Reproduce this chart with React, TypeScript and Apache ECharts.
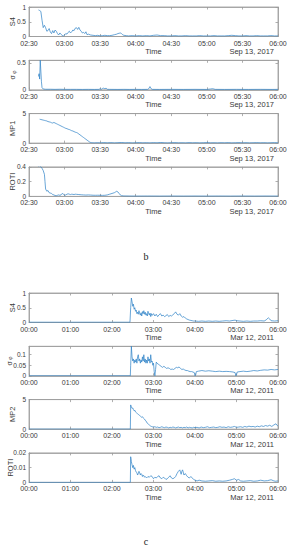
import React, { useEffect, useRef } from 'react';
import * as echarts from 'echarts';

// ---- Data (x = minutes from the start of each panel's time axis) ----
// Sep 13, 2017 panels: axis starts 02:30
const s4Sep: [number, number][] = [
  [8, 0.9], [9, 0.88], [10, 0.85], [11, 0.55], [12, 0.3], [13, 0.38], [14, 0.3], [15, 0.18], [16, 0.2], [17, 0.27],
  [18, 0.15], [19, 0.1], [20, 0.2], [21, 0.12], [22, 0.22], [23, 0.18], [24, 0.1], [25, 0.05], [26, 0.12], [27, 0.08],
  [28, 0.03], [29, 0.02], [30, 0.05], [31, 0.1], [32, 0.08], [33, 0.14], [34, 0.18], [35, 0.12], [36, 0.16], [37, 0.22],
  [38, 0.2], [39, 0.28], [40, 0.3], [41, 0.24], [42, 0.31], [43, 0.22], [44, 0.18], [45, 0.12], [46, 0.14], [47, 0.1],
  [48, 0.16], [49, 0.06], [50, 0.08], [52, 0.05], [54, 0.04], [56, 0.03], [58, 0.04], [60, 0.02], [62, 0.03], [64, 0.04],
  [66, 0.03], [68, 0.03], [70, 0.04], [72, 0.06], [74, 0.08], [75, 0.1], [76, 0.11], [77, 0.12], [78, 0.1], [79, 0.06],
  [80, 0.04], [82, 0.03], [84, 0.02], [87, 0.03], [90, 0.02], [93, 0.03], [96, 0.02], [99, 0.03], [102, 0.02], [105, 0.04],
  [108, 0.05], [111, 0.03], [114, 0.03], [117, 0.02], [120, 0.02], [123, 0.03], [126, 0.02], [129, 0.02], [132, 0.03], [135, 0.02],
  [138, 0.02], [141, 0.02], [144, 0.03], [147, 0.02], [150, 0.02], [153, 0.02], [156, 0.03], [159, 0.02], [162, 0.02], [165, 0.02],
  [168, 0.03], [171, 0.04], [174, 0.03], [177, 0.02], [180, 0.02], [183, 0.03], [186, 0.02], [189, 0.02], [192, 0.03], [195, 0.02],
  [198, 0.02], [201, 0.02], [204, 0.03], [207, 0.02], [210, 0.02],
];
const sigmaSep: [number, number][] = [
  [8, 0.25], [8.5, 0.3], [9, 0.2], [9.5, 0.55], [10, 0.35], [10.5, 0.15], [11, 0.04], [12, 0.015], [14, 0.01], [18, 0.01],
  [22, 0.008], [26, 0.01], [30, 0.008], [35, 0.008], [40, 0.008], [45, 0.007], [50, 0.008], [55, 0.007], [59, 0.008], [60, 0.02],
  [61, 0.01], [62, 0.025], [63, 0.03], [64, 0.02], [65, 0.03], [66, 0.01], [68, 0.008], [75, 0.007], [80, 0.008], [85, 0.007],
  [90, 0.008], [95, 0.007], [100, 0.008], [101, 0.02], [102, 0.06], [103, 0.02], [104, 0.008], [110, 0.007], [120, 0.008], [130, 0.007],
  [140, 0.008], [150, 0.007], [153, 0.015], [155, 0.02], [157, 0.008], [165, 0.007], [175, 0.008], [185, 0.007], [195, 0.008], [205, 0.007],
  [210, 0.008],
];
const mp1Sep: [number, number][] = [
  [9, 4.05], [10, 4.0], [11, 3.95], [12, 3.9], [13, 3.85], [14, 3.8], [15, 3.75], [16, 3.65], [17, 3.6], [18, 3.55],
  [19, 3.45], [20, 3.4], [21, 3.5], [22, 3.4], [23, 3.3], [24, 3.2], [25, 3.1], [26, 3.0], [27, 2.9], [28, 2.8],
  [29, 2.7], [30, 2.6], [31, 2.5], [32, 2.45], [33, 2.35], [34, 2.3], [35, 2.2], [36, 2.1], [37, 2.05], [38, 1.95],
  [39, 1.85], [40, 1.8], [41, 1.7], [42, 1.55], [43, 1.4], [44, 1.25], [45, 1.1], [46, 0.95], [47, 0.8], [48, 0.65],
  [49, 0.5], [50, 0.35], [51, 0.2], [52, 0.1], [53, 0.05], [55, 0.03], [58, 0.06], [60, 0.03], [63, 0.08], [66, 0.04],
  [69, 0.07], [72, 0.03], [75, 0.06], [78, 0.1], [81, 0.04], [84, 0.07], [87, 0.03], [90, 0.05], [93, 0.08], [96, 0.04],
  [99, 0.06], [102, 0.03], [105, 0.07], [108, 0.04], [111, 0.1], [114, 0.05], [117, 0.03], [120, 0.06], [123, 0.08], [126, 0.04],
  [129, 0.05], [132, 0.03], [135, 0.07], [138, 0.04], [141, 0.06], [144, 0.03], [147, 0.05], [150, 0.08], [153, 0.04], [156, 0.05],
  [159, 0.03], [162, 0.06], [165, 0.04], [168, 0.07], [171, 0.03], [174, 0.05], [177, 0.08], [180, 0.04], [183, 0.06], [186, 0.03],
  [189, 0.05], [192, 0.07], [195, 0.04], [198, 0.06], [201, 0.03], [204, 0.05], [207, 0.07], [210, 0.04],
];
const rotiSep: [number, number][] = [
  [8, 0.4], [9, 0.42], [10, 0.4], [11, 0.38], [12, 0.35], [13, 0.3], [13.5, 0.2], [14, 0.1], [15, 0.07], [16, 0.08],
  [17, 0.05], [18, 0.045], [19, 0.04], [20, 0.025], [21, 0.02], [22, 0.012], [23, 0.01], [24, 0.015], [25, 0.02], [26, 0.015],
  [27, 0.02], [28, 0.04], [29, 0.03], [30, 0.015], [31, 0.02], [32, 0.03], [33, 0.035], [34, 0.03], [35, 0.025], [36, 0.03],
  [37, 0.028], [38, 0.025], [39, 0.03], [40, 0.028], [42, 0.025], [44, 0.022], [46, 0.02], [48, 0.018], [50, 0.02], [52, 0.018],
  [54, 0.016], [56, 0.015], [58, 0.016], [60, 0.015], [62, 0.014], [64, 0.015], [66, 0.02], [68, 0.03], [70, 0.04], [72, 0.05],
  [73, 0.06], [74, 0.07], [75, 0.06], [76, 0.04], [77, 0.02], [78, 0.01], [80, 0.006], [85, 0.005], [90, 0.004], [100, 0.005],
  [110, 0.004], [120, 0.005], [130, 0.004], [140, 0.005], [150, 0.004], [160, 0.005], [170, 0.004], [180, 0.005], [190, 0.004], [200, 0.005],
  [210, 0.004],
];

// Mar 12, 2011 panels: axis starts 00:00
const s4Mar: [number, number][] = [
  [0, 0.01], [30, 0.01], [60, 0.01], [90, 0.01], [120, 0.01], [146, 0.01], [147, 0.5], [148, 0.83], [149, 0.7], [150, 0.55],
  [151, 0.62], [152, 0.45], [153, 0.5], [154, 0.38], [155, 0.42], [156, 0.3], [157, 0.35], [158, 0.28], [159, 0.4], [160, 0.3],
  [161, 0.25], [162, 0.33], [163, 0.22], [164, 0.37], [165, 0.3], [166, 0.4], [167, 0.28], [168, 0.35], [169, 0.25], [170, 0.3],
  [171, 0.22], [172, 0.38], [173, 0.3], [174, 0.25], [175, 0.32], [176, 0.2], [177, 0.3], [178, 0.24], [180, 0.3], [182, 0.22],
  [184, 0.28], [186, 0.2], [188, 0.26], [190, 0.3], [192, 0.22], [194, 0.25], [196, 0.2], [198, 0.23], [200, 0.27], [202, 0.2],
  [204, 0.24], [206, 0.22], [208, 0.26], [210, 0.3], [212, 0.36], [214, 0.28], [216, 0.25], [218, 0.3], [220, 0.22], [222, 0.18],
  [224, 0.2], [226, 0.15], [228, 0.12], [230, 0.1], [232, 0.08], [234, 0.07], [236, 0.06], [238, 0.05], [240, 0.05], [245, 0.04],
  [250, 0.05], [255, 0.04], [260, 0.05], [265, 0.04], [270, 0.05], [275, 0.04], [280, 0.05], [285, 0.06], [290, 0.05], [295, 0.07],
  [298, 0.08], [300, 0.06], [305, 0.05], [310, 0.04], [315, 0.05], [320, 0.04], [325, 0.05], [330, 0.05], [335, 0.06], [340, 0.05],
  [343, 0.09], [346, 0.16], [348, 0.12], [350, 0.06], [355, 0.05], [360, 0.06],
];
const sigmaMar: [number, number][] = [
  [0, 0], [146.5, 0], [147, 0.05], [148, 0.14], [149, 0.09], [150, 0.07], [151, 0.08], [152, 0.06], [153, 0.075], [154, 0.065],
  [155, 0.08], [156, 0.06], [157, 0.09], [158, 0.1], [159, 0.07], [160, 0.08], [161, 0.06], [162, 0.075], [163, 0.065], [164, 0.09],
  [165, 0.07], [166, 0.1], [167, 0.065], [168, 0.08], [169, 0.06], [170, 0.075], [171, 0.06], [172, 0.09], [173, 0.07], [174, 0.08],
  [175, 0.06], [176, 0.1], [177, 0.065], [178, 0.07], [179, 0.05], [180, 0.06], [181, 0.02], [182, 0], [183, 0.03], [184, 0.065],
  [185, 0.06], [187, 0.055], [189, 0.05], [191, 0.045], [193, 0.04], [195, 0.045], [197, 0.04], [199, 0.035], [201, 0.038], [203, 0.035],
  [205, 0.03], [207, 0.032], [209, 0.03], [211, 0.035], [213, 0.04], [215, 0.038], [217, 0.042], [219, 0.035], [221, 0.03], [223, 0.032],
  [225, 0.028], [227, 0.025], [229, 0.025], [231, 0.022], [233, 0.02], [235, 0.02], [237, 0.018], [239, 0.015], [240, 0], [241, 0.005],
  [242, 0.02], [245, 0.022], [250, 0.025], [255, 0.022], [260, 0.024], [265, 0.022], [270, 0.02], [275, 0.022], [280, 0.02], [285, 0.021],
  [290, 0.02], [295, 0.018], [298, 0.015], [299, 0], [300, 0.005], [301, 0.018], [305, 0.02], [310, 0.022], [315, 0.02], [320, 0.022],
  [325, 0.025], [330, 0.023], [335, 0.026], [340, 0.028], [345, 0.027], [350, 0.03], [355, 0.028], [360, 0.03],
];
const mp2Mar: [number, number][] = [
  [0, 0], [146.5, 0], [147, 4.1], [148, 3.7], [149, 3.5], [150, 3.6], [151, 3.3], [152, 3.1], [153, 3.2], [154, 2.9],
  [155, 2.8], [156, 2.7], [157, 2.6], [158, 2.5], [159, 2.5], [160, 2.3], [161, 2.2], [162, 2.2], [163, 2.0], [164, 2.1],
  [165, 1.9], [166, 1.8], [167, 1.7], [168, 1.5], [169, 1.4], [170, 1.2], [171, 1.0], [172, 0.9], [173, 0.8], [174, 0.7],
  [175, 0.6], [176, 0.5], [177, 0.45], [178, 0.4], [180, 0.35], [182, 0.4], [184, 0.3], [186, 0.35], [188, 0.25], [190, 0.3],
  [192, 0.4], [194, 0.3], [196, 0.25], [198, 0.35], [200, 0.3], [202, 0.2], [204, 0.3], [206, 0.25], [208, 0.35], [210, 0.3],
  [212, 0.2], [214, 0.28], [216, 0.35], [218, 0.25], [220, 0.3], [222, 0.2], [224, 0.3], [226, 0.25], [228, 0.35], [230, 0.2],
  [232, 0.3], [234, 0.25], [236, 0.2], [238, 0.3], [240, 0.25], [243, 0.3], [246, 0.2], [249, 0.35], [252, 0.25], [255, 0.3],
  [258, 0.4], [261, 0.25], [264, 0.3], [267, 0.35], [270, 0.25], [273, 0.3], [276, 0.4], [279, 0.3], [282, 0.35], [285, 0.25],
  [288, 0.4], [291, 0.3], [294, 0.35], [297, 0.45], [300, 0.3], [303, 0.35], [306, 0.4], [309, 0.3], [312, 0.45], [315, 0.35],
  [318, 0.5], [321, 0.4], [324, 0.45], [327, 0.35], [330, 0.5], [333, 0.4], [336, 0.55], [339, 0.45], [342, 0.6], [345, 0.5],
  [348, 0.65], [351, 0.45], [354, 0.7], [357, 0.9], [359, 0.6], [360, 0.5],
];
const rotiMar: [number, number][] = [
  [0, 0], [146.5, 0], [147, 0.0174], [148, 0.014], [149, 0.012], [150, 0.01], [151, 0.0115], [152, 0.009], [153, 0.01], [154, 0.008],
  [155, 0.007], [156, 0.0065], [157, 0.005], [158, 0.006], [159, 0.0075], [160, 0.0065], [161, 0.005], [162, 0.006], [163, 0.0055], [164, 0.004],
  [165, 0.005], [166, 0.0045], [167, 0.0035], [168, 0.004], [170, 0.003], [172, 0.004], [174, 0.0035], [176, 0.0045], [178, 0.004], [180, 0.0025],
  [182, 0.0035], [184, 0.003], [186, 0.004], [188, 0.0045], [190, 0.003], [192, 0.0025], [194, 0.0035], [196, 0.003], [198, 0.002], [200, 0.0025],
  [202, 0.0035], [204, 0.0045], [206, 0.003], [208, 0.0025], [210, 0.003], [212, 0.004], [214, 0.006], [216, 0.0075], [218, 0.0085], [219, 0.007],
  [220, 0.0055], [221, 0.0075], [222, 0.0085], [223, 0.007], [224, 0.005], [226, 0.006], [228, 0.0045], [230, 0.0035], [232, 0.003], [234, 0.004],
  [236, 0.003], [238, 0.002], [240, 0.0015], [243, 0.001], [246, 0.0015], [250, 0.001], [255, 0.0008], [260, 0.001], [265, 0.0012], [270, 0.0008],
  [275, 0.001], [280, 0.0008], [285, 0.001], [290, 0.0015], [294, 0.002], [297, 0.0025], [300, 0.0015], [303, 0.002], [306, 0.001], [310, 0.0008],
  [315, 0.001], [320, 0.0012], [325, 0.0008], [330, 0.001], [335, 0.0015], [340, 0.001], [345, 0.0012], [350, 0.0018], [353, 0.0012], [356, 0.0008],
  [360, 0.001],
];

// Tick values
const s4Ticks = [0, 0.5, 1];
const sigmaSepTicks = [0, 0.5];
const mpTicks = [0, 5];
const rotiSepTicks = [0, 0.2, 0.4];
const sigmaMarTicks = [0, 0.05, 0.1];
const rotiMarTicks = [0, 0.01, 0.02];

const dateLabels = ['Sep 13, 2017', 'Mar 12, 2011'];
const figLetters = ['b', 'c'];
const groupStartMin = [150, 0];
const groupSpan = [210, 360];
const groupInterval = [30, 60];

const panels = [
  { data: s4Sep, name: 'S4', max: 1, ticks: s4Ticks, g: 0 },
  { data: sigmaSep, name: '{s|σ}{p| φ}', max: 0.55, ticks: sigmaSepTicks, g: 0 },
  { data: mp1Sep, name: 'MP1', max: 5, ticks: mpTicks, g: 0 },
  { data: rotiSep, name: 'ROTI', max: 0.4, ticks: rotiSepTicks, g: 0 },
  { data: s4Mar, name: 'S4', max: 1, ticks: s4Ticks, g: 1 },
  { data: sigmaMar, name: '{s|σ}{p| φ}', max: 0.14, ticks: sigmaMarTicks, g: 1 },
  { data: mp2Mar, name: 'MP2', max: 5, ticks: mpTicks, g: 1 },
  { data: rotiMar, name: 'ROTI', max: 0.02, ticks: rotiMarTicks, g: 1 },
];
const nameGaps = [13, 13, 13, 13, 13, 16.5, 13, 15];

const FONT = 'Liberation Sans, Arial, Helvetica, sans-serif';
const AXIS = '#9a9a9a';
const TXT = '#3a3a3a';
const LINE = '#2a80c6';
const LEFT = 29;
const WIDTH = 249;
const H = 29.5;
const groupTop = [7, 293];
const STEP = 53.3;

function pad(n: number) {
  return (n < 10 ? '0' : '') + n;
}

export default function App() {
  const ref = useRef<HTMLDivElement>(null);
  useEffect(() => {
    const chart = echarts.init(ref.current!, null, { renderer: 'svg' });
    const tops = panels.map((p, i) => groupTop[p.g] + (i % 4) * STEP);
    const grids: any[] = [];
    const xAxes: any[] = [];
    const yAxes: any[] = [];
    const series: any[] = [];
    const graphics: any[] = [];
    panels.forEach((p, i) => {
      grids.push({
        left: LEFT, width: WIDTH, top: tops[i], height: H,
        show: true, borderColor: AXIS, borderWidth: 0.8, backgroundColor: 'transparent',
        containLabel: false, outerBoundsMode: 'none',
      });
      const off = groupStartMin[p.g];
      const tickStyle = { inside: true, length: 2.5, lineStyle: { color: AXIS, width: 0.8 } };
      xAxes.push({
        type: 'value', gridIndex: i, min: 0, max: groupSpan[p.g], interval: groupInterval[p.g], position: 'bottom',
        axisLine: { show: true, onZero: false, lineStyle: { color: AXIS, width: 0.8 } },
        axisTick: tickStyle,
        splitLine: { show: false },
        axisLabel: {
          fontSize: 7, color: TXT, margin: 3, fontFamily: FONT,
          formatter: (v: number) => {
            const m = Math.round(v + off);
            return pad(Math.floor(m / 60)) + ':' + pad(m % 60);
          },
        },
        name: 'Time', nameLocation: 'middle', nameGap: 11, nameMoveOverlap: false,
        nameTextStyle: { fontSize: 7.5, color: TXT, fontFamily: FONT },
      });
      xAxes.push({
        type: 'value', gridIndex: i, min: 0, max: groupSpan[p.g], interval: groupInterval[p.g], position: 'top',
        axisLine: { show: true, onZero: false, lineStyle: { color: AXIS, width: 0.8 } },
        axisTick: tickStyle, axisLabel: { show: false }, splitLine: { show: false },
      });
      yAxes.push({
        type: 'value', gridIndex: i, min: 0, max: p.max, position: 'left',
        axisLine: { show: true, onZero: false, lineStyle: { color: AXIS, width: 0.8 } },
        axisTick: { ...tickStyle, customValues: p.ticks },
        splitLine: { show: false },
        axisLabel: { customValues: p.ticks, fontSize: 6.5, color: TXT, margin: 3, fontFamily: FONT },
        name: p.name, nameLocation: 'middle', nameGap: nameGaps[i], nameRotate: 90, nameMoveOverlap: false,
        nameTextStyle: {
          fontSize: 7.5, color: TXT, fontFamily: FONT,
          rich: {
            s: { fontSize: 7, color: TXT, fontFamily: FONT },
            p: { fontSize: 5, color: TXT, fontFamily: FONT, verticalAlign: 'bottom' },
          },
        },
      });
      yAxes.push({
        type: 'value', gridIndex: i, min: 0, max: p.max, position: 'right',
        axisLine: { show: true, onZero: false, lineStyle: { color: AXIS, width: 0.8 } },
        axisTick: { ...tickStyle, customValues: p.ticks },
        axisLabel: { show: false, customValues: p.ticks }, splitLine: { show: false },
      });
      series.push({
        type: 'line', xAxisIndex: 2 * i, yAxisIndex: 2 * i, data: p.data,
        showSymbol: false, symbol: 'none', silent: true, clip: true,
        lineStyle: { color: LINE, width: 0.7 },
      });
      graphics.push({
        type: 'text', x: 274, y: tops[i] + H + 15,
        style: {
          text: dateLabels[p.g], align: 'right', verticalAlign: 'middle',
          textAlign: 'right', textVerticalAlign: 'middle',
          fontSize: 7.5, fill: TXT, fontFamily: FONT,
        },
      });
    });
    const letterY = [256, 541.5];
    figLetters.forEach((l, k) => {
      graphics.push({
        type: 'text', x: 146, y: letterY[k],
        style: {
          text: l, align: 'center', verticalAlign: 'middle', textAlign: 'center', textVerticalAlign: 'middle',
          fontSize: 10, fill: '#222', fontFamily: 'Liberation Serif, DejaVu Serif, serif',
        },
      });
    });
    chart.setOption({
      animation: false,
      backgroundColor: '#ffffff',
      grid: grids,
      xAxis: xAxes,
      yAxis: yAxes,
      series,
      graphic: graphics,
    });
    return () => chart.dispose();
  }, []);
  return <div ref={ref} style={{ position: 'fixed', left: 0, top: 0, width: 292, height: 550 }} />;
}
